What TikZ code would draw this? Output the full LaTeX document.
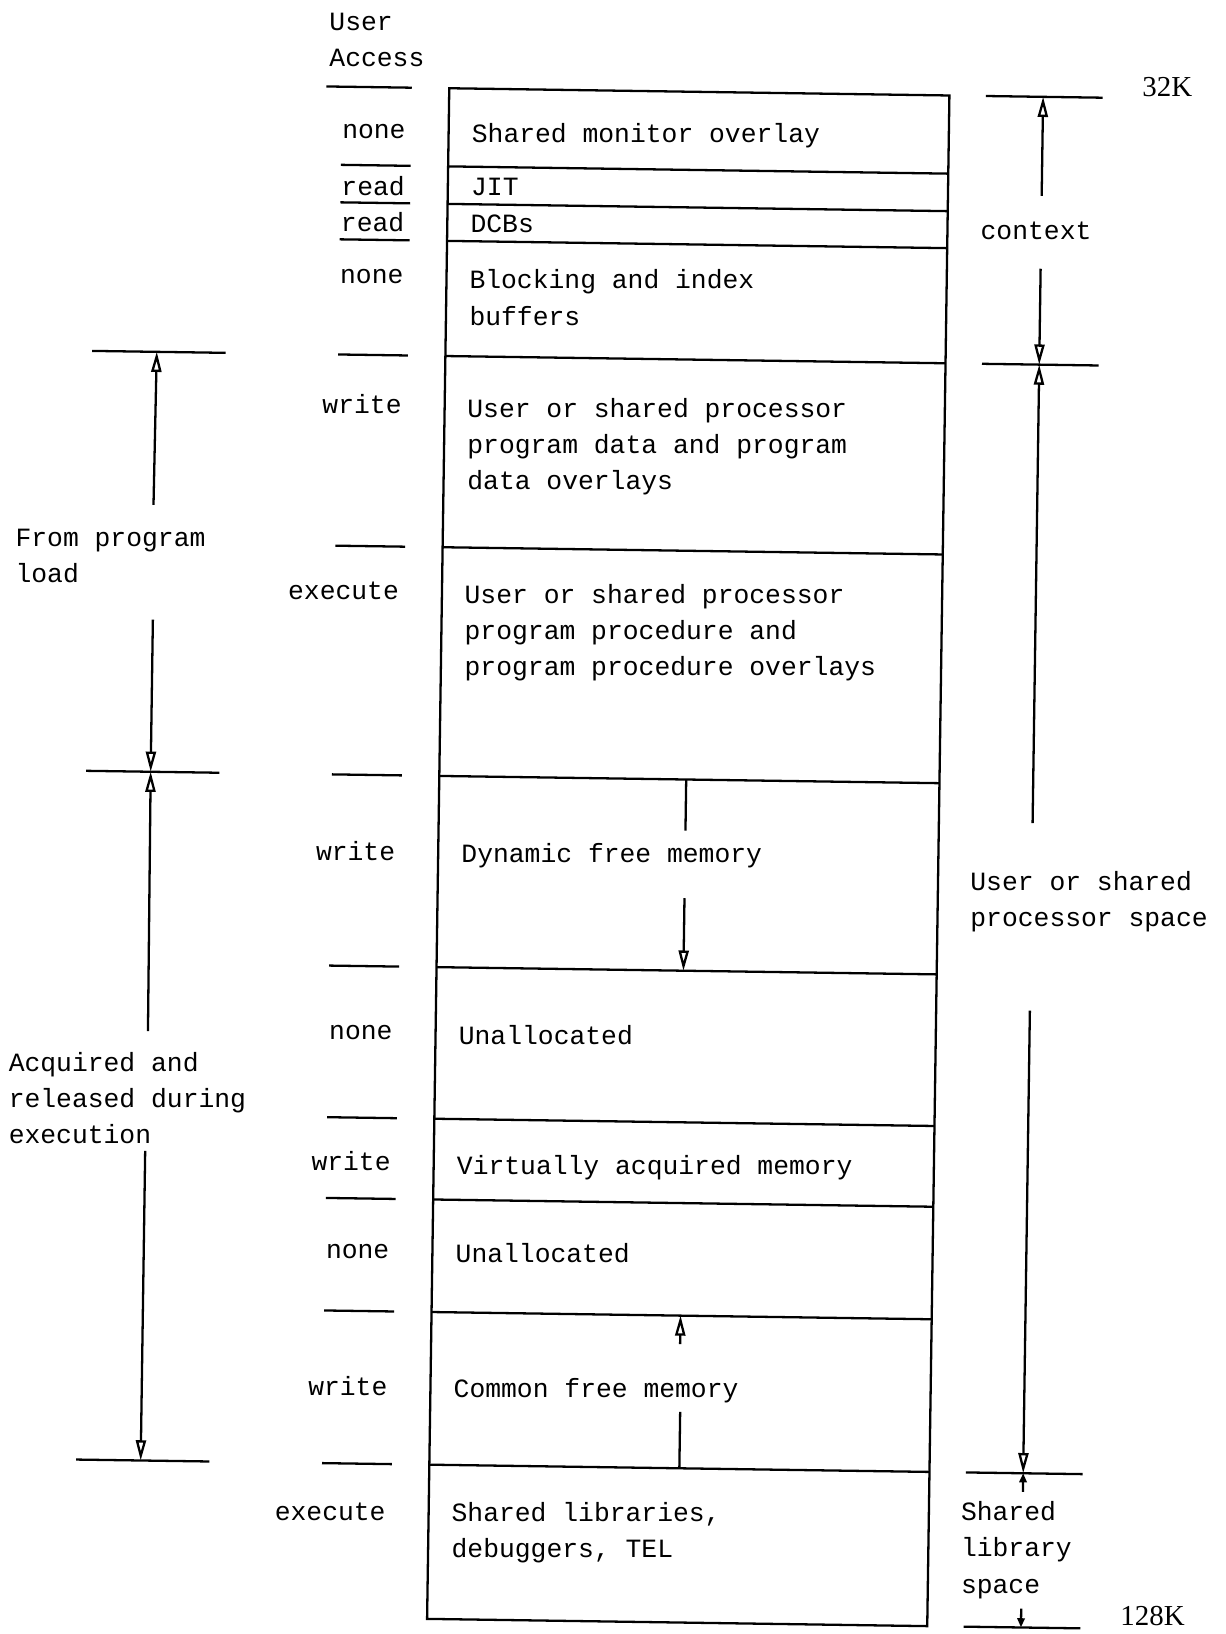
\documentclass[tikz,border=0pt]{standalone}
\usepackage{fontspec}
\setmonofont{Liberation Mono}
\newfontfamily\kfont{Liberation Serif}
\usetikzlibrary{arrows.meta}

\begin{document}
\begin{tikzpicture}[x=0.02cm,y=-0.02cm,
    txt/.style={font=\ttfamily\fontsize{14.4}{19.8}\selectfont,inner sep=0pt,align=left},
    acc/.style={txt,anchor=east},
    cell/.style={txt,anchor=west},
    side/.style={txt,anchor=west},
    kval/.style={font=\kfont\fontsize{15.8}{18}\selectfont,inner sep=0pt},
    rule/.style={line width=1.25pt},
    dim/.style={line width=1.25pt,-{Triangle[open,length=11pt,width=5.5pt]}},
    tiny/.style={line width=1.25pt,-{Triangle[length=5pt,width=4pt]}}]
\useasboundingbox (0,0) rectangle (1176,1568);
\begin{scope}[rotate around={-0.83:(588,784)}]
% memory map
\draw[rule] (421,87) rectangle (901,1556);
\draw[rule] (303,87) -- (385,87);
\foreach \y in {162,198,233.5,344,527.5,747,930.5,1076,1153.5,1261.5,1408}
    \draw[rule] (421,\y) -- (901,\y) (318,\y) -- (385,\y);

\node[side] (ua) at (305,42.4) {User\\Access};
\foreach \y/\t [count=\i] in {129.3/none,181.3/read,216.3/read,268.3/none,390.5/write,
    569.9/execute,819.6/write,993.9/none,1116.9/write,1203.9/none,1333/write,1453.5/execute}
    \node[acc] (acc\i) at (380,\y) {\t};

\node[cell] (smo) at (443,132.5) {Shared monitor overlay};
\node[cell] (jit) at (443,181.6) {JIT};
\node[cell] (dcb) at (443,216.6) {DCBs};
\node[cell] (blk) at (443,287.5) {Blocking and index\\buffers};
\node[cell] (pdata) at (443,430.5) {User or shared processor\\program data and program\\data overlays};
\node[cell] (pproc) at (443,609.2) {User or shared processor\\program procedure and\\program procedure overlays};
\node[cell] (dyn) at (443,823) {Dynamic free memory};
\node[cell] (una) at (443,995) {Unallocated};
\node[cell] (virt) at (443,1122.4) {Virtually acquired memory};
\node[cell] (unb) at (443,1205) {Unallocated};
\node[cell] (com) at (443,1336.3) {Common free memory};
\node[cell] (lib) at (443,1473) {Shared libraries,\\debuggers, TEL};

% growth of the free areas
\coordinate (dyntop) at (658,747);
\coordinate (dyna) at (658,796);
\coordinate (dynb) at (658,861);
\coordinate (dynbot) at (658,930.5);
\draw[rule] (dyntop) -- (dyna);
\draw[dim] (dynb) -- (dynbot);
\coordinate (comtop) at (660,1261.5);
\coordinate (coma) at (660,1289);
\coordinate (comb) at (661,1354);
\coordinate (combot) at (661,1408);
\draw[dim] (coma) -- (comtop);
\draw[rule] (comb) -- (combot);

% left
\foreach \y in {344,747,1408}
    \draw[rule] (82,\y) -- (210,\y);
\node[side] (load) at (11,542) {From program\\load};
\node[side] (acq) at (12,1062) {Acquired and\\released during\\execution};
\coordinate (la) at (144,344);
\coordinate (lb) at (144,747);
\coordinate (lc) at (144,1408);
\coordinate (l1) at (143,491);
\coordinate (l2) at (144,601);
\coordinate (l3) at (145,996);
\coordinate (l4) at (144,1111);
\draw[dim] (l1) -- (la);
\draw[dim] (l2) -- (lb);
\draw[dim] (l3) -- (lb);
\draw[dim] (l4) -- (lc);

% right
\foreach \y in {87,344,1408,1556}
    \draw[rule] (936,\y) -- (1048,\y);
\node[kval] (k32) at (1110,76.3) {32K};
\node[kval] (k128) at (1117,1543) {128K};
\node[txt] (ctx) at (986,216) {context};
\node[side] (usp) at (932,860.4) {User or shared\\processor space};
\node[side] (slib) at (932,1482.6) {Shared\\library\\space};
\coordinate (ra) at (991,87);
\coordinate (rb) at (991,344);
\coordinate (rc) at (991,1408);
\coordinate (rd) at (991,1556);
\coordinate (r1) at (991,182);
\coordinate (r2) at (991,252);
\coordinate (r3) at (991,784);
\coordinate (r4) at (991,964);
\coordinate (r5) at (991,1426);
\coordinate (r6) at (991,1538);
\draw[dim] (r1) -- (ra);
\draw[dim] (r2) -- (rb);
\draw[dim] (r3) -- (rb);
\draw[dim] (r4) -- (rc);
\draw[tiny] (r5) -- (rc);
\draw[tiny] (r6) -- (rd);
\end{scope}
\end{tikzpicture}
\end{document}
